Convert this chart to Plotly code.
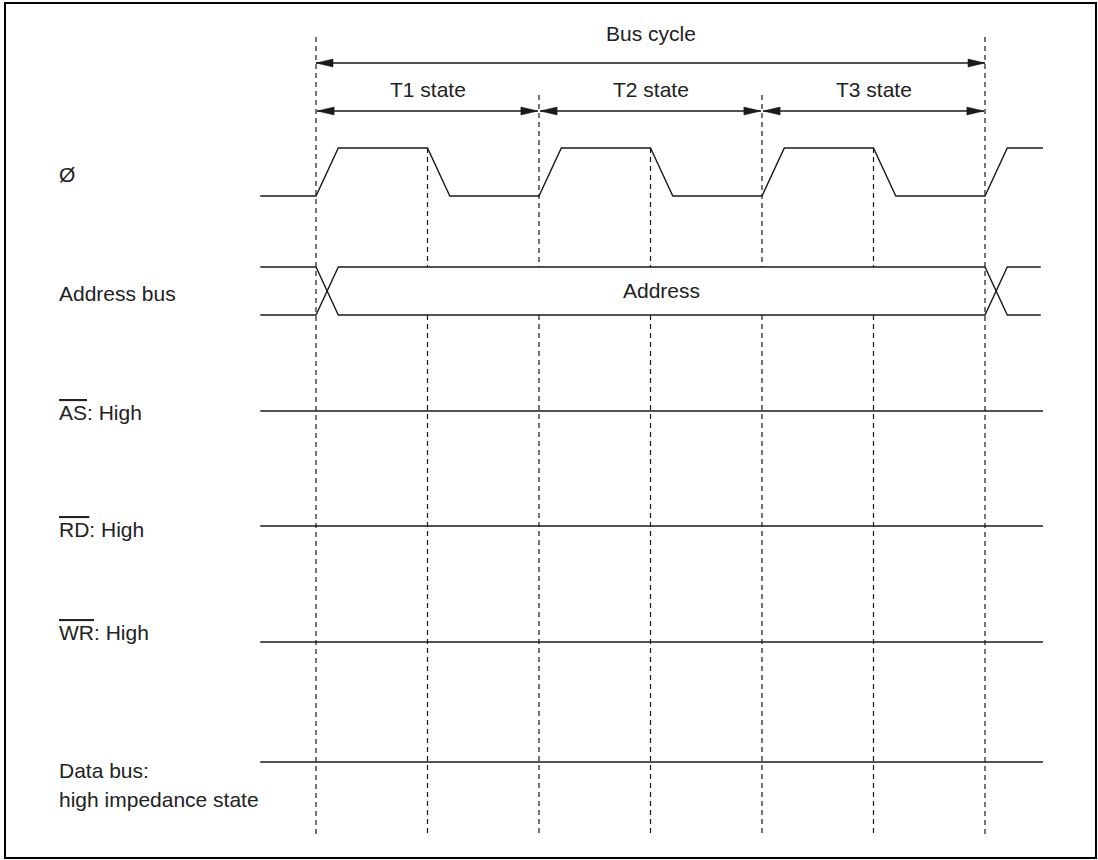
import plotly.graph_objects as go

# Datos del diagrama (tiempo en medios ciclos de reloj, 0 = inicio de T1)
state_names = ["T1 state", "T2 state", "T3 state"]
state_start = [0, 2, 4]
state_end = [2, 4, 6]
bus_cycle = [0, 6]

clk_t = [-0.5, 0, 0.2, 1, 1.2, 2, 2.2, 3, 3.2, 4, 4.2, 5, 5.2, 6, 6.2, 6.52]
clk_level = [0, 0, 1, 1, 0, 0, 1, 1, 0, 0, 1, 1, 0, 0, 1, 1]

addr_t = [-0.5, 0, 0.2, 6, 6.2, 6.5]
addr_text = "Address"

static_labels = ['<span style="text-decoration:overline">AS</span>: High',
                 '<span style="text-decoration:overline">RD</span>: High',
                 '<span style="text-decoration:overline">WR</span>: High']
data_label = ["Data bus:", "high impedance state"]
line_start, line_end = -0.5, 6.52

guide_t = [0, 1, 2, 3, 4, 5, 6]

# Layout (y en px)
W, H = 1098, 860
PX = 111.5            # px por medio ciclo
X0 = 316              # px de t=0
INK = "#1a1a1a"
FONT = dict(family="Liberation Sans, Arial, sans-serif", size=21, color="#222")

t_min = -X0 / PX
t_max = t_min + W / PX
lab_x = 57 / W

fig = go.Figure()

def line(xs, ys, dash=None, width=1.4):
    fig.add_trace(go.Scatter(x=xs, y=ys, mode="lines", hoverinfo="skip",
                             line=dict(color=INK, width=width, dash=dash)))

def head(t, y, direction):
    L = 17 / PX
    xs = [t, t - direction * L, t - direction * L, t]
    ys = [y, y - 4, y + 4, y]
    fig.add_trace(go.Scatter(x=xs, y=ys, mode="lines", fill="toself", fillcolor=INK,
                             line=dict(color=INK, width=0.5), hoverinfo="skip"))

clk_hi, clk_lo = 148, 196
a_hi, a_lo = 267, 315

# lineas guia verticales (las interiores se cortan dentro del bus de direcciones)
guide_top = {0: 37, 6: 37, 2: 95, 4: 95}
for t in guide_t:
    top = guide_top.get(t, clk_hi)
    if t in bus_cycle:
        line([t, t], [top, 836], dash="5px,4px", width=1.2)
    else:
        line([t, t, None, t, t], [top, a_hi, None, a_lo, 836], dash="5px,4px", width=1.2)

# flechas
def arrow(a, b, y):
    line([a, b], [y, y])
    head(a, y, -1)
    head(b, y, 1)

arrow(bus_cycle[0], bus_cycle[1], 63)
fig.add_annotation(x=(bus_cycle[0] + bus_cycle[1]) / 2, y=33, text="Bus cycle", showarrow=False)
for name, a, b in zip(state_names, state_start, state_end):
    arrow(a + 0.01, b - 0.01, 111)
    fig.add_annotation(x=(a + b) / 2, y=89, text=name, showarrow=False)

# reloj
line(clk_t, [clk_lo - lv * (clk_lo - clk_hi) for lv in clk_level])

# bus de direcciones
line(addr_t, [a_hi, a_hi, a_lo, a_lo, a_hi, a_hi])
line(addr_t, [a_lo, a_lo, a_hi, a_hi, a_lo, a_lo])
fig.add_annotation(x=(addr_t[2] + addr_t[3]) / 2, y=(a_hi + a_lo) / 2 - 1, text=addr_text, showarrow=False)

# señales estaticas
static_y = [411, 526, 642]
static_ly = [412, 529, 632]
for lab, y, ly in zip(static_labels, static_y, static_ly):
    line([line_start, line_end], [y, y])
    fig.add_annotation(x=lab_x, xref="paper", y=ly, text=lab, showarrow=False, xanchor="left")

line([line_start, line_end], [762, 762])
for lab, ly in zip(data_label, [770, 799]):
    fig.add_annotation(x=lab_x, xref="paper", y=ly, text=lab, showarrow=False, xanchor="left")

fig.add_annotation(x=lab_x, xref="paper", y=174, text="Ø", showarrow=False, xanchor="left")
fig.add_annotation(x=lab_x, xref="paper", y=293, text="Address bus", showarrow=False, xanchor="left")

# marco
fig.add_shape(type="rect", xref="paper", yref="paper", x0=5 / W, x1=1096 / W,
              y0=1 - 858 / H, y1=1 - 3 / H, line=dict(color="black", width=2))

fig.update_layout(width=W, height=H, margin=dict(l=0, r=0, t=0, b=0),
                  plot_bgcolor="white", paper_bgcolor="white", showlegend=False,
                  font=FONT,
                  xaxis=dict(range=[t_min, t_max], visible=False, fixedrange=True),
                  yaxis=dict(range=[H, 0], visible=False, fixedrange=True))

fig.write_html("out.html", config={"displayModeBar": False},
               post_script="document.body.style.margin='0';")
